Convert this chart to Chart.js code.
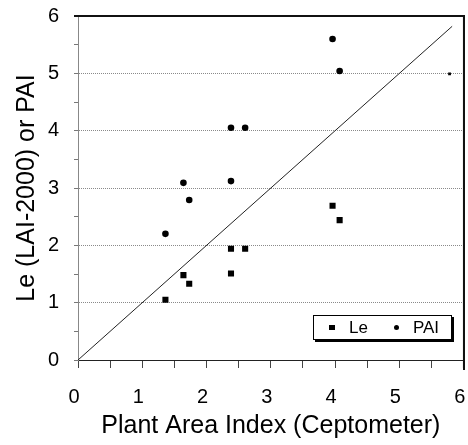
<!DOCTYPE html>
<html>
<head>
<meta charset="utf-8">
<script src="https://cdn.jsdelivr.net/npm/chart.js@4.4.1/dist/chart.umd.min.js"></script>
<style>
  body { margin: 0; background: #fff; }
  .wrap { position: relative; width: 468px; height: 445px; }
  .legend {
    position: absolute; left: 313px; top: 315px; width: 137px; height: 23px;
    border: 1px solid #000; box-shadow: 2px 2px 0 #000; background: #fff;
    font: 17px "Liberation Sans", Arial, sans-serif; color: #000;
    display: flex; align-items: center;
  }
  .legend .mk { display: inline-block; background: #000; }
  .legend .rect { width: 6px; height: 5px; margin-left: 15px; }
  .legend .circle { width: 5px; height: 5px; border-radius: 50%; margin-left: 26px; }
  .legend .txt { margin-left: 14px; }
  .frame { position: absolute; border-top: 2px solid #111; border-right: 2px solid #111; pointer-events: none; }
</style>
</head>
<body>
<div class="wrap">
  <canvas id="chart" width="468" height="445"></canvas>
  <div class="frame" id="frame"></div>
  <div class="legend" id="legend"></div>
</div>
<script>
// x = Plant Area Index (Ceptometer)
const xValues = [1.36, 1.64, 1.73, 2.38, 2.38, 2.60, 3.96, 4.07];
const leValues = [1.05, 1.48, 1.33, 1.94, 1.51, 1.94, 2.69, 2.44];
const paiValues = [2.20, 3.09, 2.79, 4.05, 3.12, 4.05, 5.60, 5.04];
// stray mark at the right end of the 5 line
const extraX = [5.78];
const extraY = [4.99];
// 1:1 line
const lineEnds = [0, 5.82];
const xTickLabels = [0, 1, 2, 3, 4, 5, 6];
const yTickLabels = [0, 1, 2, 3, 4, 5, 6];

const sans = '"Liberation Sans", Arial, sans-serif';

function toPoints(xs, ys) {
  return xs.map((x, i) => ({ x: x, y: ys[i] }));
}

const datasets = [
  {
    label: "Le",
    data: toPoints(xValues, leValues),
    pointStyle: "rect",
    pointRadius: 4.3,
    backgroundColor: "#000",
    borderColor: "#000",
    borderWidth: 0,
  },
  {
    label: "PAI",
    data: toPoints(xValues, paiValues),
    pointStyle: "circle",
    pointRadius: 3.3,
    backgroundColor: "#000",
    borderColor: "#000",
    borderWidth: 0,
  },
  {
    label: "",
    data: toPoints(extraX, extraY),
    pointStyle: "rect",
    pointRadius: 2,
    backgroundColor: "#000",
    borderWidth: 0,
  },
  {
    label: "",
    data: toPoints(lineEnds, lineEnds),
    showLine: true,
    pointRadius: 0,
    borderColor: "#222",
    borderWidth: 1,
  },
];

// black frame on top and right, drawn on the canvas too
const framePlugin = {
  id: "plotFrame",
  afterDraw(chart) {
    const x = chart.scales.x;
    const y = chart.scales.y;
    const ctx = chart.ctx;
    ctx.save();
    ctx.strokeStyle = "#111";
    ctx.lineWidth = 1.5;
    ctx.beginPath();
    ctx.moveTo(x.getPixelForValue(0) - 4, y.getPixelForValue(6));
    ctx.lineTo(x.getPixelForValue(6), y.getPixelForValue(6));
    ctx.lineTo(x.getPixelForValue(6), y.getPixelForValue(0) + 8);
    ctx.stroke();
    ctx.restore();
  },
};

const options = {
  responsive: false,
  animation: false,
  events: [],
  layout: { padding: { top: 16, right: 2, left: 0, bottom: 0 } },
  plugins: { legend: { display: false }, tooltip: { enabled: false } },
  scales: {
    x: {
      type: "linear",
      min: 0,
      max: 6,
      afterFit: (scale) => {
        scale.height = 85;
        scale.paddingLeft = 0;
        scale.paddingRight = 0;
      },
      ticks: {
        stepSize: 0.5,
        autoSkip: false,
        maxRotation: 0,
        color: "#000",
        padding: 17,
        labelOffset: -4,
        font: { family: sans, size: 20 },
        callback: (v) => (xTickLabels.includes(v) ? String(v) : ""),
      },
      grid: {
        drawOnChartArea: false,
        tickColor: "#444",
        tickLength: 8,
      },
      border: { color: "#222", width: 1 },
      title: {
        display: true,
        text: "Plant Area Index (Ceptometer)",
        color: "#000",
        font: { family: sans, size: 25 },
        padding: { top: 0, bottom: 4 },
      },
    },
    y: {
      type: "linear",
      min: 0,
      max: 6,
      afterFit: (scale) => {
        scale.width = 78;
        scale.paddingTop = 0;
        scale.paddingBottom = 0;
      },
      ticks: {
        stepSize: 0.5,
        autoSkip: false,
        color: "#000",
        padding: 15,
        font: { family: sans, size: 20 },
        callback: (v) => (yTickLabels.includes(v) ? String(v) : ""),
      },
      grid: {
        color: (ctx) => {
          const v = ctx.tick ? ctx.tick.value : 0;
          if (Number.isInteger(v) && v > 0 && v < 6) return "#8a8a8a";
          return "rgba(0,0,0,0)";
        },
        tickColor: "#777",
        tickLength: 4,
      },
      border: { color: "#888", width: 1, dash: [1, 1] },
      title: {
        display: true,
        text: "Le (LAI-2000) or PAI",
        color: "#000",
        font: { family: sans, size: 25 },
        padding: { top: 12, bottom: 0 },
      },
    },
  },
};

const chart = new Chart(document.getElementById("chart"), {
  type: "scatter",
  data: { datasets: datasets },
  options: options,
  plugins: [framePlugin],
});

// same frame as a DOM box, placed from the scales
const xs = chart.scales.x;
const ys = chart.scales.y;
const fr = document.getElementById("frame");
const fLeft = xs.getPixelForValue(0) - 4;
const fTop = ys.getPixelForValue(6) - 1;
fr.style.left = fLeft + "px";
fr.style.top = fTop + "px";
fr.style.width = (xs.getPixelForValue(6) - fLeft - 1) + "px";
fr.style.height = (ys.getPixelForValue(0) + 8 - fTop) + "px";

// legend built from the named datasets
const legend = document.getElementById("legend");
chart.data.datasets.filter((d) => d.label).forEach((d) => {
  const mk = document.createElement("span");
  mk.className = "mk " + (d.pointStyle === "rect" ? "rect" : "circle");
  const txt = document.createElement("span");
  txt.className = "txt";
  txt.textContent = d.label;
  legend.appendChild(mk);
  legend.appendChild(txt);
});
</script>
</body>
</html>
